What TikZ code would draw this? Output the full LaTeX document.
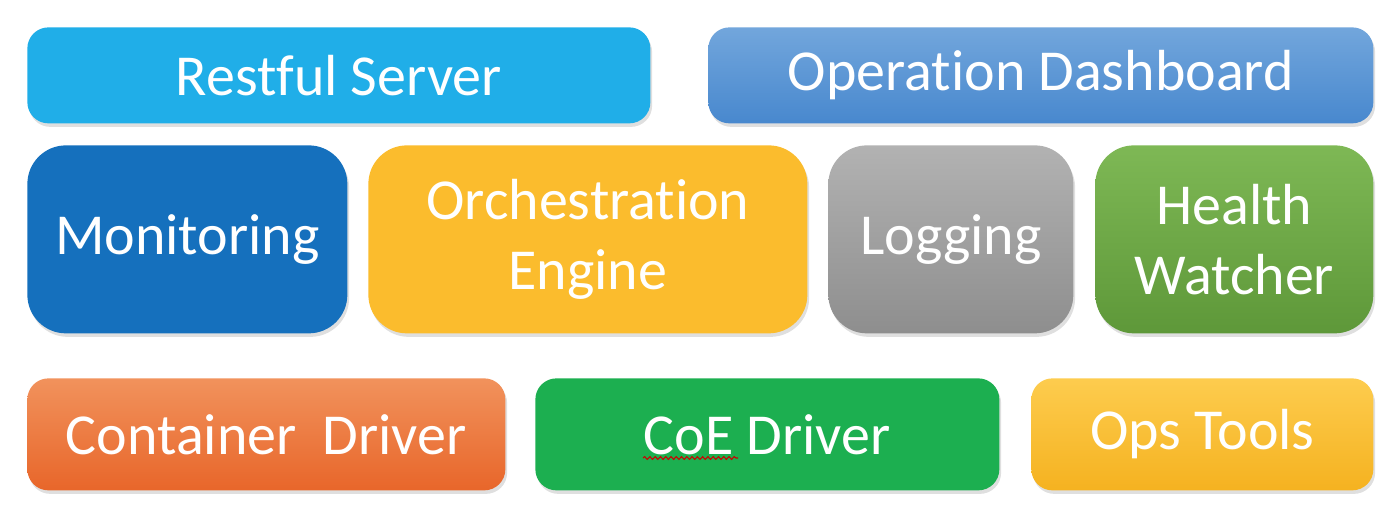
\documentclass[tikz,border=0pt]{standalone}
\usepackage{fontspec}
\setmainfont{Carlito}[Ligatures=NoCommon]
\usetikzlibrary{positioning, shadows, decorations.pathmorphing}
\definecolor{colSky}{RGB}{32, 174, 232}
\definecolor{colDashTop}{RGB}{114, 166, 220}
\definecolor{colDashBot}{RGB}{72, 136, 206}
\definecolor{colNavy}{RGB}{21, 112, 189}
\definecolor{colAmber}{RGB}{251, 188, 45}
\definecolor{colGrayTop}{RGB}{178, 178, 178}
\definecolor{colGrayBot}{RGB}{142, 142, 142}
\definecolor{colLeafTop}{RGB}{126, 184, 85}
\definecolor{colLeafBot}{RGB}{94, 152, 57}
\definecolor{colOrangeTop}{RGB}{241, 146, 92}
\definecolor{colOrangeBot}{RGB}{232, 102, 42}
\definecolor{colGreen}{RGB}{28, 175, 80}
\definecolor{colGoldTop}{RGB}{253, 204, 78}
\definecolor{colGoldBot}{RGB}{245, 178, 32}

\tikzset{
    block/.style={rounded corners=12pt, anchor=north west, inner sep=0pt,
        text=white, font=\fontsize{33}{40}\selectfont, align=center,
        drop shadow={shadow xshift=1pt, shadow yshift=-2pt, opacity=0.25}},
    flat/.style={block, fill=#1},
    shade2/.style 2 args={block, top color=#1, bottom color=#2}
}

\begin{document}
\begin{tikzpicture}[x=0.02cm, y=-0.02cm]
    \useasboundingbox (0,0) rectangle (1394,512);

    % --- top row ---
    \node[flat=colSky, minimum width=623*0.02cm, minimum height=96*0.02cm]
        (rest) at (27,27) {Restful Server};
    \node[shade2={colDashTop}{colDashBot}, minimum width=665*0.02cm, minimum height=96*0.02cm]
        (dash) at (708,27) {Operation Dashboard};

    % --- middle row ---
    \node[flat=colNavy, rounded corners=22pt, minimum width=320*0.02cm, minimum height=188*0.02cm]
        (mon) at (27,145) {Monitoring};
    \node[flat=colAmber, rounded corners=22pt, minimum width=439*0.02cm, minimum height=188*0.02cm]
        (orch) at (368,145) {Orchestration\\Engine};
    \node[shade2={colGrayTop}{colGrayBot}, rounded corners=22pt, minimum width=245*0.02cm, minimum height=188*0.02cm]
        (log) at (828,145) {Logging};
    \node[shade2={colLeafTop}{colLeafBot}, rounded corners=22pt, minimum width=278*0.02cm, minimum height=188*0.02cm]
        (health) at (1095,145) {Health\\Watcher};

    % --- bottom row ---
    \node[shade2={colOrangeTop}{colOrangeBot}, minimum width=478*0.02cm, minimum height=112*0.02cm]
        (cont) at (27,378) {Container\ \ Driver};
    \node[flat=colGreen, minimum width=464*0.02cm, minimum height=112*0.02cm]
        (coe) at (535,378) {CoE Driver};
    \node[shade2={colGoldTop}{colGoldBot}, minimum width=342*0.02cm, minimum height=112*0.02cm]
        (ops) at (1031,378) {Ops Tools};

    % spell-check squiggle under CoE
    \coordinate (sqA) at (643,458);
    \coordinate (sqB) at (738,458);
    \draw[red!80!black, line width=0.6pt, decorate,
        decoration={snake, amplitude=0.8pt, segment length=3pt}] (sqA) -- (sqB);
\end{tikzpicture}
\end{document}
